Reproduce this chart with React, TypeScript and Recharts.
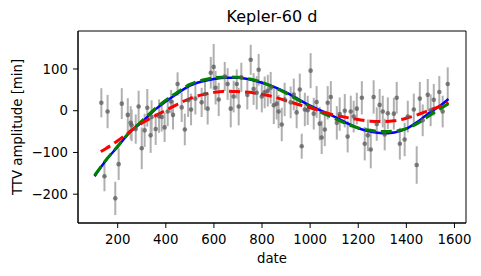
import React from 'react';
import {
  ComposedChart,
  Scatter,
  Line,
  XAxis,
  YAxis,
  ErrorBar,
  ReferenceArea,
} from 'recharts';

// observed TTVs: date, amplitude [min], 1-sigma error
const obsDate = [
  132, 145, 158, 190, 204, 217, 242, 254, 258, 275, 287, 300, 312, 323, 337, 341, 358, 372, 383, 395,
  408, 422, 430, 449, 466, 479, 493, 505, 523, 549, 563, 574, 587, 599, 607, 620, 645, 657, 670, 682,
  695, 703, 714, 739, 753, 765, 778, 786, 799, 811, 824, 836, 849, 861, 869, 882, 894, 919, 932, 944,
  957, 965, 978, 990, 1002, 1015, 1027, 1040, 1048, 1061, 1073, 1086, 1111, 1123, 1144, 1156, 1169, 1181, 1194, 1215,
  1227, 1240, 1252, 1264, 1277, 1289, 1302, 1310, 1323, 1348, 1360, 1373, 1393, 1406, 1431, 1443, 1456, 1468, 1489, 1501,
  1514, 1537, 1551, 1572,
];
const obsTtv = [
  19, -157, -2, -210, -128, 17, -10, -29, -35, -44, 10, -90, -47, 7, -59, -15, -44, -13, -15, -40,
  -2, 22, -10, 64, 8, -45, 25, 3, 29, 20, 40, 5, 91, 105, 55, 27, 82, 64, 5, 34,
  64, 10, 80, 38, 122, 52, 43, 98, 34, 44, 48, 55, 13, 17, -2, -33, 27, 20, 39, -4,
  51, -85, 3, 1, 96, -7, 21, -31, -64, -45, 19, 33, -29, -8, 0, -62, -2, -14, 5, 31,
  -79, -59, -93, 33, -32, 14, -2, -57, -6, -7, 31, -79, -69, -14, 3, -130, 29, -23, 38, 1,
  26, 45, -2, 64,
];
const obsErr = [
  35, 36, 40, 40, 38, 37, 40, 40, 38, 35, 38, 50, 40, 45, 42, 40, 38, 40, 35, 35,
  35, 28, 35, 28, 35, 38, 40, 38, 38, 35, 38, 38, 38, 55, 40, 40, 35, 38, 45, 38,
  35, 45, 35, 35, 36, 38, 40, 38, 38, 38, 38, 38, 45, 38, 40, 40, 40, 38, 38, 38,
  38, 30, 40, 35, 42, 38, 38, 40, 40, 40, 40, 38, 40, 40, 40, 38, 38, 38, 38, 40,
  40, 38, 45, 40, 40, 38, 38, 38, 38, 38, 38, 38, 40, 38, 38, 45, 40, 38, 38, 38,
  38, 38, 38, 40,
];

// model curves
const modelDate = [
  104, 150, 200, 250, 300, 350, 400, 450, 500, 550, 600, 650, 700, 750, 800, 850,
  900, 950, 1000, 1050, 1100, 1150, 1200, 1250, 1300, 1350, 1400, 1450, 1500, 1550, 1575,
];
const blueModel = [
  -157, -120, -86, -52, -28, 0, 22, 42, 60, 70, 76, 79, 79, 75, 67, 57,
  44, 28, 12, -1, -14, -29, -42, -50, -54, -52, -43, -25, -3, 16, 28,
];
const greenModel = [
  -155, -119, -85, -51, -25, 2, 25, 45, 63, 73, 79, 81, 80, 76, 68, 56,
  42, 26, 10, -5, -18, -31, -41, -47, -50, -49, -43, -29, -10, 8, 17,
];
const redDate = [
  130, 150, 200, 250, 300, 350, 400, 450, 500, 550, 600, 650, 700, 750, 800, 850,
  900, 950, 1000, 1050, 1100, 1150, 1200, 1250, 1300, 1350, 1400, 1450, 1500, 1550, 1575,
];
const redModel = [
  -98, -91, -72, -50, -30, -14, 1, 16, 29, 38, 44, 47, 46, 44, 39, 33,
  24, 15, 7, -2, -10, -16, -21, -25, -26, -24, -18, -9, 2, 13, 20,
];

const xTicks = [200, 400, 600, 800, 1000, 1200, 1400, 1600];
const yTicks = [-200, -100, 0, 100];

const points = obsDate.map((x, i) => ({ x, y: obsTtv[i], err: obsErr[i] }));
const blueData = modelDate.map((x, i) => ({ x, y: blueModel[i] }));
const greenData = modelDate.map((x, i) => ({ x, y: greenModel[i] }));
const redData = redDate.map((x, i) => ({ x, y: redModel[i] }));

const X_DOMAIN: [number, number] = [35, 1648];
const Y_DOMAIN: [number, number] = [-269, 191];
const FONT = '"DejaVu Sans", sans-serif';

const fmt = (v: number) => (v < 0 ? '\u2212' + Math.abs(v) : String(v));

const Dot = (props: any) => {
  const { cx, cy } = props;
  if (cx == null || cy == null) return null;
  return <circle cx={cx} cy={cy} r={2.3} fill="#5a5a5a" fillOpacity={0.75} />;
};

const NoDot = () => null;

export default function App() {
  return (
    <div style={{ position: 'absolute', left: 0, top: 0, width: 481, height: 276, background: '#fff' }}>
      <ComposedChart
        width={481}
        height={276}
        margin={{ top: 31, right: 15, bottom: 0, left: 0 }}
        style={{ fontFamily: FONT }}
      >
        <XAxis
          dataKey="x"
          type="number"
          domain={X_DOMAIN}
          allowDataOverflow
          ticks={xTicks}
          height={53}
          tickSize={5}
          tickMargin={7}
          stroke="#000"
          tick={{ fill: '#000', fontSize: 13.3 }}
          label={{ value: 'date', position: 'insideBottom', offset: 13, fill: '#000', fontSize: 13.3 }}
        />
        <YAxis
          dataKey="y"
          type="number"
          domain={Y_DOMAIN}
          allowDataOverflow
          ticks={yTicks}
          width={78}
          tickSize={5}
          tickMargin={5}
          stroke="#000"
          tickFormatter={fmt}
          tick={{ fill: '#000', fontSize: 13.3 }}
          label={{
            value: 'TTV amplitude [min]',
            angle: -90,
            position: 'insideLeft',
            offset: 17,
            fill: '#000',
            fontSize: 13.3,
            style: { textAnchor: 'middle' },
          }}
        />
        <ReferenceArea
          x1={X_DOMAIN[0]}
          x2={X_DOMAIN[1]}
          y1={Y_DOMAIN[0]}
          y2={Y_DOMAIN[1]}
          fill="none"
          stroke="#000"
          strokeWidth={1}
          fillOpacity={0}
        />
        <Scatter data={points} dataKey="y" shape={NoDot} isAnimationActive={false}>
          <ErrorBar dataKey="err" direction="y" width={0} stroke="#b0b0b0" strokeWidth={2} />
        </Scatter>
        <Scatter data={points} dataKey="y" shape={Dot} isAnimationActive={false} />
        <Line
          data={blueData}
          dataKey="y"
          type="monotone"
          stroke="#0000ff"
          strokeWidth={2.5}
          dot={false}
          isAnimationActive={false}
        />
        <Line
          data={greenData}
          dataKey="y"
          type="monotone"
          stroke="#008000"
          strokeWidth={3}
          strokeDasharray="11 5"
          dot={false}
          isAnimationActive={false}
        />
        <Line
          data={redData}
          dataKey="y"
          type="monotone"
          stroke="#ff0000"
          strokeWidth={3}
          strokeDasharray="11 5"
          dot={false}
          isAnimationActive={false}
        />
        <text x={272} y={21.7} textAnchor="middle" fontSize={16} fill="#000" fontFamily={FONT}>
          Kepler-60 d
        </text>
      </ComposedChart>
    </div>
  );
}
